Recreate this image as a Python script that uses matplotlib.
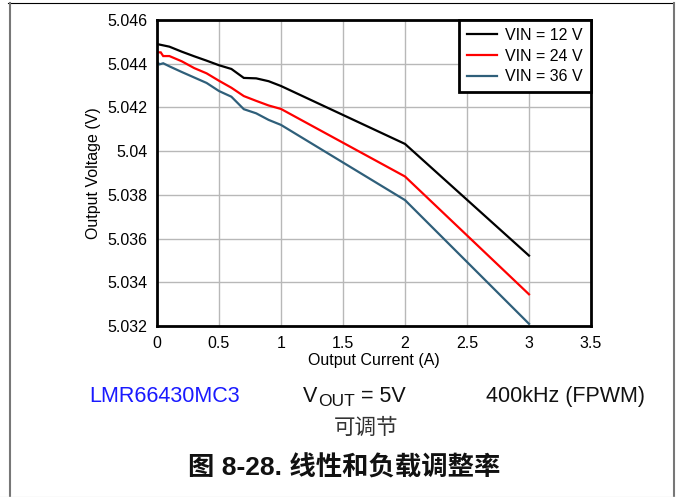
import matplotlib
matplotlib.use("Agg")
import matplotlib.pyplot as plt
from matplotlib.lines import Line2D

plt.rcParams['font.family'] = ['Liberation Sans', 'Noto Sans CJK SC', 'DejaVu Sans']

# ---- data ----
i_12 = [0, 0.1, 0.2, 0.3, 0.4, 0.5, 0.6, 0.7, 0.8, 0.9, 1.0, 2.0, 3.0]
v_12 = [5.0449, 5.04478, 5.04455, 5.04434, 5.04414, 5.04393, 5.04376, 5.04335,
        5.04333, 5.0432, 5.04298, 5.04033, 5.03522]

i_24 = [0, 0.03, 0.05, 0.1, 0.2, 0.3, 0.4, 0.5, 0.6, 0.7, 0.8, 0.9, 1.0, 2.0, 3.0]
v_24 = [5.04452, 5.04452, 5.04435, 5.04435, 5.04411, 5.0438, 5.04356, 5.04322,
        5.0429, 5.04252, 5.0423, 5.04209, 5.04193, 5.03884, 5.03345]

i_36 = [0, 0.02, 0.05, 0.1, 0.2, 0.3, 0.4, 0.5, 0.6, 0.7, 0.8, 0.9, 1.0, 2.0, 3.0]
v_36 = [5.04409, 5.04397, 5.04402, 5.04388, 5.04362, 5.04337, 5.04312, 5.04275,
        5.04249, 5.04192, 5.04173, 5.04143, 5.0412, 5.03776, 5.0321]

series_labels = ['VIN = 12 V', 'VIN = 24 V', 'VIN = 36 V']
series_colors = ['#000000', '#ff0000', '#2f5f7a']

x_ticks = [0, 0.5, 1, 1.5, 2, 2.5, 3, 3.5]
x_ticklabels = ['0', '0.5', '1', '1.5', '2', '2.5', '3', '3.5']
y_ticks = [5.046, 5.044, 5.042, 5.04, 5.038, 5.036, 5.034, 5.032]
y_ticklabels = ['5.046', '5.044', '5.042', '5.04', '5.038', '5.036', '5.034', '5.032']

# ---- figure ----
W, H = 676, 497
fig = plt.figure(figsize=(W / 100, H / 100), dpi=100)
ax = fig.add_axes([157 / W, 1 - 326 / H, (591 - 157) / W, (326 - 20) / H])

for xs, ys, lab, col in zip([i_12, i_24, i_36], [v_12, v_24, v_36], series_labels, series_colors):
    ax.plot(xs, ys, color=col, lw=1.6, label=lab, solid_joinstyle='miter')

ax.set_xlim(0, 3.5)
ax.set_ylim(5.032, 5.046)
ax.set_xticks(x_ticks)
ax.set_xticklabels(x_ticklabels)
ax.set_yticks(y_ticks)
ax.set_yticklabels(y_ticklabels)
ax.tick_params(length=0, labelsize=11.5, pad=7)
ax.grid(True, color='#b8b8b8', lw=1)
ax.set_axisbelow(True)
for s in ax.spines.values():
    s.set_linewidth(2)
    s.set_color('black')
ax.set_xlabel('Output Current (A)', fontsize=11.5, labelpad=2)
ax.set_ylabel('Output Voltage (V)', fontsize=11.5, labelpad=4)

leg = ax.legend(loc='upper right', borderaxespad=0, fontsize=11.5, frameon=True,
                fancybox=False, edgecolor='black', handlelength=1.9,
                labelspacing=0.35, handletextpad=0.5, borderpad=0.5)
leg.get_frame().set_linewidth(2)
leg.get_frame().set_alpha(1)

# ---- annotations below ----
base = 1 - 402 / H
fig.text(165 / W, base, 'LMR66430MC3', color='#1a1aff', fontsize=15.5,
         ha='center', va='baseline')
fig.text(303 / W, base, 'V', color='#111111', fontsize=15.5, ha='left', va='baseline')
fig.text(318 / W, 1 - 406 / H, 'OUT', color='#111111', fontsize=12.5, ha='left', va='baseline')
fig.text(361 / W, base, '= 5V', color='#111111', fontsize=15.5, ha='left', va='baseline')
fig.text(565 / W, base, '400kHz (FPWM)', color='#111111', fontsize=15.5,
         ha='center', va='baseline')
fig.text(366 / W, 1 - 428 / H, '可调节', color='#333333', fontsize=15.5,
         ha='center', va='center', family=['Noto Sans CJK SC'])
fig.text(344 / W, 1 - 468 / H, '图 8-28. 线性和负载调整率', color='#111111', fontsize=19,
         fontweight='bold', ha='center', va='center',
         family=['Liberation Sans', 'Noto Sans CJK SC'])

# ---- outer frame ----
fig.add_artist(Line2D([8 / W, 673 / W], [1 - 3 / H, 1 - 3 / H], color='black', lw=0.8,
                      transform=fig.transFigure))
fig.add_artist(Line2D([9.5 / W, 9.5 / W], [0, 1 - 3 / H], color='#777777', lw=1.5,
                      transform=fig.transFigure))
fig.add_artist(Line2D([673.5 / W, 673.5 / W], [0, 1 - 3 / H], color='#777777', lw=1.5,
                      transform=fig.transFigure))
fig.add_artist(Line2D([0, 1], [0.5 / H, 0.5 / H], color='#e6e6e6', lw=1,
                      transform=fig.transFigure))

fig.savefig('out.png', dpi=100)
